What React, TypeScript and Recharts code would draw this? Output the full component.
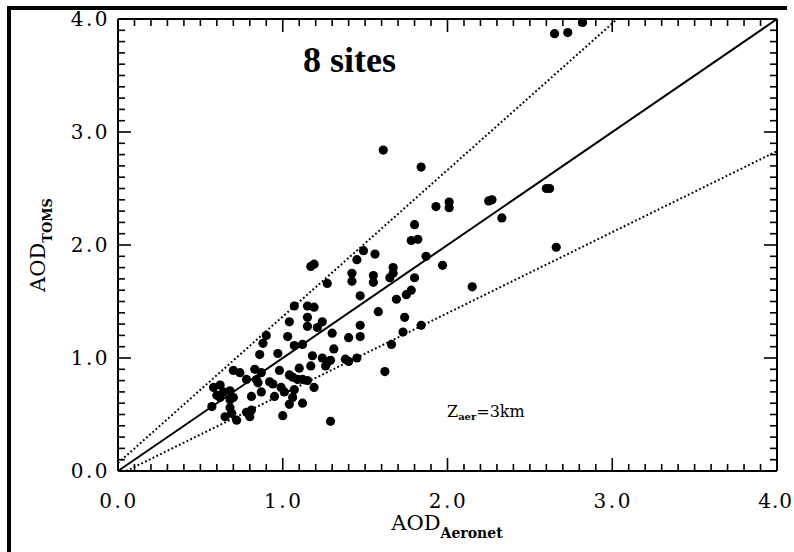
import { Scatter, ScatterChart, XAxis, YAxis } from "recharts";

// AOD_Aeronet, AOD_TOMS pairs
const aodPairs: [number, number][] = [
  [2.82, 3.97], [2.65, 3.87], [2.73, 3.88], [1.61, 2.84], [1.84, 2.69],
  [2.6, 2.5], [2.62, 2.5], [2.25, 2.39], [2.27, 2.4], [2.33, 2.24],
  [1.93, 2.34], [2.01, 2.38], [2.01, 2.33], [1.8, 2.18], [1.78, 2.04], [1.82, 2.05],
  [1.87, 1.9], [1.97, 1.82], [2.66, 1.98], [2.15, 1.63],
  [1.49, 1.95], [1.56, 1.92], [1.45, 1.87],
  [1.17, 1.81], [1.19, 1.83], [1.27, 1.66],
  [1.42, 1.75], [1.42, 1.68], [1.55, 1.73], [1.55, 1.67],
  [1.67, 1.8], [1.67, 1.75], [1.65, 1.71], [1.8, 1.71],
  [1.47, 1.55], [1.78, 1.6], [1.75, 1.56], [1.69, 1.52],
  [1.58, 1.41], [1.74, 1.36], [1.73, 1.23], [1.84, 1.29], [1.66, 1.12],
  [1.24, 1.32], [1.47, 1.29], [1.3, 1.22], [1.4, 1.18], [1.47, 1.19],
  [1.31, 1.08], [1.24, 1.0], [1.27, 0.96], [1.26, 0.93],
  [1.38, 0.99], [1.4, 0.97], [1.45, 1.0], [1.62, 0.88], [1.29, 0.44],
  [1.07, 1.46], [1.15, 1.46], [1.19, 1.45], [1.04, 1.32], [1.15, 1.36], [1.15, 1.28], [1.21, 1.27],
  [0.9, 1.2], [0.88, 1.13], [1.03, 1.19], [1.07, 1.11], [1.12, 1.12],
  [0.86, 1.03], [0.97, 1.04], [1.18, 1.02],
  [0.7, 0.89], [0.74, 0.87], [0.83, 0.9], [0.87, 0.87], [1.1, 0.91], [1.17, 0.93],
  [1.04, 0.85], [1.09, 0.81], [0.78, 0.81], [0.84, 0.81], [0.85, 0.78], [0.92, 0.79], [0.94, 0.77],
  [1.06, 0.83], [1.12, 0.81], [0.62, 0.76], [0.64, 0.7], [0.6, 0.67], [0.68, 0.71],
  [0.7, 0.65], [0.68, 0.63], [0.81, 0.66], [0.87, 0.7], [0.95, 0.66], [0.99, 0.74], [1.01, 0.7],
  [1.06, 0.65], [1.04, 0.59], [1.12, 0.6], [0.57, 0.57], [0.68, 0.56], [0.69, 0.51], [0.65, 0.48],
  [0.72, 0.45], [0.78, 0.52], [0.81, 0.54], [1.0, 0.49], [0.8, 0.48],
  [0.58, 0.74], [0.62, 0.65], [1.07, 0.72], [1.15, 0.8], [1.19, 0.74], [0.98, 0.89], [1.29, 0.98],
];

const oneToOne = [{ x: 0, y: 0 }, { x: 4, y: 4 }];
const upperBound = [{ x: 0, y: 0.07 }, { x: 3.03, y: 4.0 }];
const lowerBound = [{ x: 0.05, y: 0 }, { x: 4, y: 2.83 }];

const majorTicks = [0, 1, 2, 3, 4];
const allTicks = Array.from({ length: 41 }, (_, i) => i / 10);

const points = aodPairs.map(([x, y]) => ({ x, y }));

const isMajor = (v: number) => majorTicks.includes(Math.round(v * 10) / 10);
const tickFont = { fontFamily: "DejaVu Serif", fontSize: 20, letterSpacing: 2.5, fill: "#000" };

const BottomTick = ({ x, y, payload }: any) => {
  const major = isMajor(payload.value);
  const last = payload.value === 4;
  return (
    <g>
      <line x1={x} x2={x} y1={y} y2={y - (major ? 13 : 7)} stroke="#000" strokeWidth={1.6} />
      {major && (
        <text
          x={last ? 793 : x + 1}
          y={y + 37}
          textAnchor={last ? "end" : "middle"}
          {...tickFont}
          letterSpacing={last ? 1 : 2.5}
        >
          {payload.value.toFixed(1)}
        </text>
      )}
    </g>
  );
};

const TopTick = ({ x, y, payload }: any) => (
  <line x1={x} x2={x} y1={y} y2={y + (isMajor(payload.value) ? 13 : 7)} stroke="#000" strokeWidth={1.6} />
);

const LeftTick = ({ x, y, payload }: any) => {
  const major = isMajor(payload.value);
  return (
    <g>
      <line x1={x} x2={x + (major ? 13 : 7)} y1={y} y2={y} stroke="#000" strokeWidth={1.6} />
      {major && (
        <text x={x - 8} y={y + 7} textAnchor="end" {...tickFont}>
          {payload.value.toFixed(1)}
        </text>
      )}
    </g>
  );
};

const RightTick = ({ x, y, payload }: any) => (
  <line x1={x} x2={x - (isMajor(payload.value) ? 13 : 7)} y1={y} y2={y} stroke="#000" strokeWidth={1.6} />
);

const Dot = ({ cx, cy }: any) => <circle cx={cx} cy={cy} r={4.6} fill="#000" />;
const NoDot = () => <g />;

const axisLine = { stroke: "#000", strokeWidth: 2 };

export default function App() {
  return (
    <div style={{ position: "absolute", left: 0, top: 0, width: 794, height: 552, background: "#fff" }}>
      <ScatterChart width={794} height={552} margin={{ top: 18, right: 16, bottom: 21, left: 38 }}>
        <XAxis
          dataKey="x"
          type="number"
          domain={[0, 4]}
          ticks={allTicks}
          interval={0}
          tickSize={0}
          tickMargin={0}
          height={60}
          axisLine={axisLine}
          tick={<BottomTick />}
        />
        <XAxis
          xAxisId="top"
          dataKey="x"
          type="number"
          orientation="top"
          domain={[0, 4]}
          ticks={allTicks}
          interval={0}
          tickSize={0}
          tickMargin={0}
          height={1}
          axisLine={axisLine}
          tick={<TopTick />}
        />
        <YAxis
          dataKey="y"
          type="number"
          domain={[0, 4]}
          ticks={allTicks}
          interval={0}
          tickSize={0}
          tickMargin={0}
          width={80}
          axisLine={axisLine}
          tick={<LeftTick />}
        />
        <YAxis
          yAxisId="right"
          dataKey="y"
          type="number"
          orientation="right"
          domain={[0, 4]}
          ticks={allTicks}
          interval={0}
          tickSize={0}
          tickMargin={0}
          width={1}
          axisLine={axisLine}
          tick={<RightTick />}
        />
        <Scatter
          data={oneToOne}
          xAxisId="top"
          yAxisId="right"
          line={{ stroke: "#000", strokeWidth: 2 }}
          shape={<NoDot />}
          isAnimationActive={false}
        />
        <Scatter
          data={upperBound}
          line={{ stroke: "#000", strokeWidth: 2, strokeDasharray: "1.8 2.4" }}
          shape={<NoDot />}
          isAnimationActive={false}
        />
        <Scatter
          data={lowerBound}
          line={{ stroke: "#000", strokeWidth: 2, strokeDasharray: "1.8 2.4" }}
          shape={<NoDot />}
          isAnimationActive={false}
        />
        <Scatter data={points} shape={<Dot />} isAnimationActive={false} />
      </ScatterChart>

      <svg
        width={794}
        height={552}
        style={{ position: "absolute", left: 0, top: 0, pointerEvents: "none" }}
      >
        <rect x={7} y={6} width={4} height={546} fill="#000" />
        <rect x={7} y={6} width={780} height={4} fill="#000" />
        <text x={303} y={72} fontFamily="Liberation Serif" fontWeight="bold" fontSize={36} fill="#000">
          8 sites
        </text>
        <text x={447} y={417} fontFamily="DejaVu Serif" fontSize={16} fill="#000">
          Z
          <tspan fontSize={10} fontWeight="bold" dy={3}>aer</tspan>
          <tspan dy={-3}>=3km</tspan>
        </text>
        <text x={447} y={530} textAnchor="middle" fontFamily="DejaVu Serif" fontSize={21} fill="#000">
          AOD
          <tspan fontSize={14} fontWeight="bold" dy={8}>Aeronet</tspan>
        </text>
        <text
          transform="translate(45,245) rotate(-90)"
          textAnchor="middle"
          fontFamily="DejaVu Serif"
          fontSize={21}
          fill="#000"
        >
          AOD
          <tspan fontSize={13} fontWeight="bold" dy={7}>TOMS</tspan>
        </text>
      </svg>
    </div>
  );
}
